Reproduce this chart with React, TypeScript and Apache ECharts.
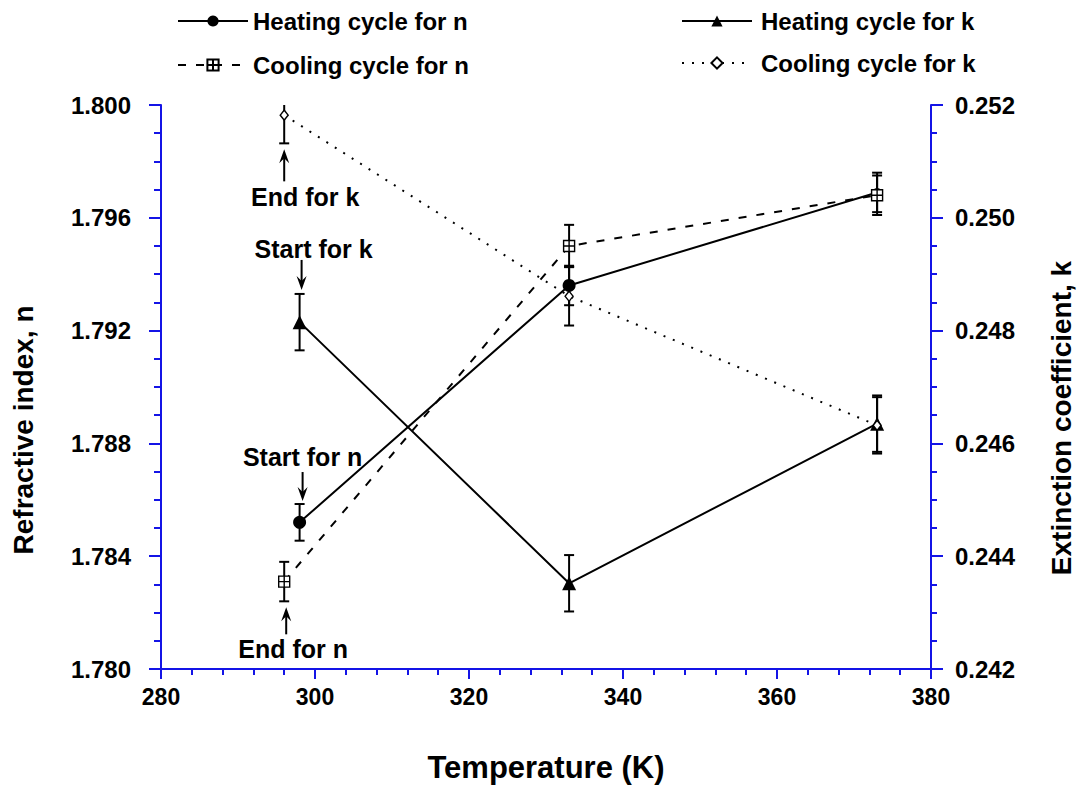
import React, { useEffect, useRef } from "react";
import * as echarts from "echarts";

const heatingTemps = [298, 333, 373];
const coolingTemps = [296, 333, 373];
const heatingN = [1.7852, 1.7936, 1.7969];
const heatingNErr = [0.00065, 0.0007, 0.0007];
const coolingN = [1.7831, 1.795, 1.7968];
const coolingNErr = [0.0007, 0.00075, 0.0007];
const heatingK = [0.24815, 0.24352, 0.24635];
const heatingKErr = [0.0005, 0.0005, 0.0005];
const coolingK = [0.25182, 0.24861, 0.24632];
const coolingKErr = [0.0005, 0.00052, 0.0005];

const seriesNames = [
  "Heating cycle for n",
  "Cooling cycle for n",
  "Heating cycle for k",
  "Cooling cycle for k",
];
const xAxisTitle = "Temperature (K)";
const leftAxisTitle = "Refractive index, n";
const rightAxisTitle = "Extinction coefficient, k";

const FONT = "'Liberation Sans', Arial, sans-serif";
const BLUE = "#1414e6";

function errorSeries(xs: number[], ys: number[], errs: number[], yAxisIndex: number) {
  return {
    type: "custom",
    yAxisIndex,
    clip: true,
    silent: true,
    z: 1,
    data: xs.map((x, i) => [x, ys[i] - errs[i], ys[i] + errs[i]]),
    encode: { x: 0, y: [1, 2] },
    renderItem: (_params: any, api: any) => {
      const lo = api.coord([api.value(0), api.value(1)]);
      const hi = api.coord([api.value(0), api.value(2)]);
      const w = 5;
      const style = { stroke: "#000", lineWidth: 2 };
      return {
        type: "group",
        children: [
          { type: "line", shape: { x1: lo[0], y1: lo[1], x2: hi[0], y2: hi[1] }, style },
          { type: "line", shape: { x1: lo[0] - w, y1: lo[1], x2: lo[0] + w, y2: lo[1] }, style },
          { type: "line", shape: { x1: hi[0] - w, y1: hi[1], x2: hi[0] + w, y2: hi[1] }, style },
        ],
      };
    },
  };
}

const squareCross = "path://M0,0L10,0L10,10L0,10Z M5,0L5,10 M0,5L10,5";

export default function App() {
  const ref = useRef<HTMLDivElement>(null);
  useEffect(() => {
    if (!ref.current) return;
    const chart = echarts.init(ref.current, null, { renderer: "svg" });
    const legendText = { fontFamily: FONT, fontWeight: "bold", fontSize: 24, color: "#000" };
    const option: any = {
      animation: false,
      backgroundColor: "#fff",
      textStyle: { fontFamily: FONT },
      grid: { left: 161, right: 146, top: 105, bottom: 117 },
      legend: [
        {
          data: [seriesNames[0], seriesNames[1]],
          orient: "vertical",
          left: 172,
          top: 4,
          itemWidth: 70,
          itemHeight: 14,
          itemGap: 20,
          textStyle: { ...legendText, padding: [0, 0, 0, 0] },
        },
        {
          data: [seriesNames[2], seriesNames[3]],
          orient: "vertical",
          left: 676,
          top: 4,
          itemWidth: 70,
          itemHeight: 14,
          itemGap: 18,
          textStyle: { ...legendText, padding: [0, 0, 0, 4] },
        },
      ],
      xAxis: {
        type: "value",
        min: 280,
        max: 380,
        interval: 20,
        name: xAxisTitle,
        nameLocation: "middle",
        nameGap: 83,
        nameTextStyle: { fontFamily: FONT, fontWeight: "bold", fontSize: 31, color: "#000" },
        axisLine: { lineStyle: { color: BLUE, width: 2 } },
        axisTick: { show: true, inside: false, length: 10, lineStyle: { color: BLUE, width: 2 } },
        minorTick: { show: true, splitNumber: 5, length: 6, lineStyle: { color: BLUE, width: 2 } },
        splitLine: { show: false },
        axisLabel: { fontFamily: FONT, fontWeight: "bold", fontSize: 23, color: "#000", margin: 16 },
      },
      yAxis: [
        {
          type: "value",
          position: "left",
          min: 1.78,
          max: 1.8,
          interval: 0.004,
          axisLine: { show: true, lineStyle: { color: BLUE, width: 2 } },
          axisTick: { show: true, inside: false, length: 12, lineStyle: { color: BLUE, width: 2 } },
          minorTick: { show: true, splitNumber: 4, length: 7, lineStyle: { color: BLUE, width: 2 } },
          splitLine: { show: false },
          axisLabel: {
            fontFamily: FONT,
            fontWeight: "bold",
            fontSize: 24,
            color: "#000",
            margin: 30,
            formatter: (v: number) => v.toFixed(3),
          },
        },
        {
          type: "value",
          position: "right",
          min: 0.242,
          max: 0.252,
          interval: 0.002,
          axisLine: { show: true, lineStyle: { color: BLUE, width: 2 } },
          axisTick: { show: true, inside: false, length: 12, lineStyle: { color: BLUE, width: 2 } },
          minorTick: { show: true, splitNumber: 4, length: 6, lineStyle: { color: BLUE, width: 2 } },
          splitLine: { show: false },
          axisLabel: {
            fontFamily: FONT,
            fontWeight: "bold",
            fontSize: 24,
            color: "#000",
            margin: 24,
            formatter: (v: number) => v.toFixed(3),
          },
        },
      ],
      series: [
        errorSeries(heatingTemps, heatingN, heatingNErr, 0),
        errorSeries(coolingTemps, coolingN, coolingNErr, 0),
        errorSeries(heatingTemps, heatingK, heatingKErr, 1),
        errorSeries(coolingTemps, coolingK, coolingKErr, 1),
        {
          name: seriesNames[0],
          type: "line",
          yAxisIndex: 0,
          z: 3,
          data: heatingTemps.map((t, i) => [t, heatingN[i]]),
          symbol: "circle",
          symbolSize: (_v: any, p: any) => (p && p.dataIndex === 2 ? 9 : 13),
          showAllSymbol: true,
          lineStyle: { color: "#000", width: 2, type: "solid" },
          itemStyle: { color: "#000" },
        },
        {
          name: seriesNames[2],
          type: "line",
          yAxisIndex: 1,
          z: 3,
          data: heatingTemps.map((t, i) => [t, heatingK[i]]),
          symbol: "triangle",
          symbolSize: 14,
          lineStyle: { color: "#000", width: 2, type: "solid" },
          itemStyle: { color: "#000" },
        },
        {
          name: seriesNames[1],
          type: "line",
          yAxisIndex: 0,
          z: 4,
          data: coolingTemps.map((t, i) => [t, coolingN[i]]),
          symbol: squareCross,
          symbolSize: 11,
          lineStyle: { color: "#000", width: 2, type: [8, 10] },
          itemStyle: { color: "#fff", borderColor: "#000", borderWidth: 1.4 },
        },
        {
          name: seriesNames[3],
          type: "line",
          yAxisIndex: 1,
          z: 4,
          data: coolingTemps.map((t, i) => [t, coolingK[i]]),
          symbol: "diamond",
          symbolSize: [8, 10],
          lineStyle: { color: "#000", width: 2, type: [2, 8] },
          itemStyle: { color: "#fff", borderColor: "#000", borderWidth: 1.4 },
        },
      ],
    };
    chart.setOption(option);

    const toPx = (yIdx: number, x: number, y: number) =>
      chart.convertToPixel({ xAxisIndex: 0, yAxisIndex: yIdx } as any, [x, y]) as number[];

    const arrow = (x: number, tail: number, tip: number) => {
      const dir = tip < tail ? 1 : -1; // 1: pointing up
      const head = 14;
      return [
        {
          type: "line",
          shape: { x1: x, y1: tail, x2: x, y2: tip + dir * 6 },
          style: { stroke: "#000", lineWidth: 2 },
        },
        {
          type: "polygon",
          shape: {
            points: [
              [x, tip],
              [x - 5, tip + dir * head],
              [x, tip + dir * 9],
              [x + 5, tip + dir * head],
            ],
          },
          style: { fill: "#000" },
        },
      ];
    };
    const label = (text: string, x: number, y: number, size = 25, rotation = 0) => ({
      type: "text",
      x,
      y,
      rotation,
      style: {
        text,
        fontFamily: FONT,
        fontWeight: "bold",
        fontSize: size,
        fill: "#000",
        align: "center",
        verticalAlign: "middle",
      },
    });

    const endK = toPx(1, coolingTemps[0], coolingK[0] - coolingKErr[0]);
    const startK = toPx(1, heatingTemps[0], heatingK[0] + heatingKErr[0]);
    const startN = toPx(0, heatingTemps[0], heatingN[0] + heatingNErr[0]);
    const endN = toPx(0, coolingTemps[0], coolingN[0] - coolingNErr[0]);

    const graphic: any[] = [
      ...arrow(endK[0], endK[1] + 38, endK[1] + 6),
      label("End for k", endK[0] + 21, endK[1] + 54),
      ...arrow(startK[0] + 2, startK[1] - 34, startK[1] - 4),
      label("Start for k", startK[0] + 14, startK[1] - 45),
      ...arrow(startN[0] + 3, startN[1] - 32, startN[1] - 3),
      label("Start for n", startN[0] + 3, startN[1] - 47),
      ...arrow(endN[0] + 2, endN[1] + 33, endN[1] + 6),
      label("End for n", endN[0] + 9, endN[1] + 48),
      label(leftAxisTitle, 23, 430, 28, Math.PI / 2),
      label(rightAxisTitle, 1061, 418, 28, Math.PI / 2),
    ];
    chart.setOption({ graphic });

    return () => chart.dispose();
  }, []);
  return (
    <div
      ref={ref}
      style={{ position: "absolute", left: 0, top: 0, width: 1077, height: 788 }}
    />
  );
}
